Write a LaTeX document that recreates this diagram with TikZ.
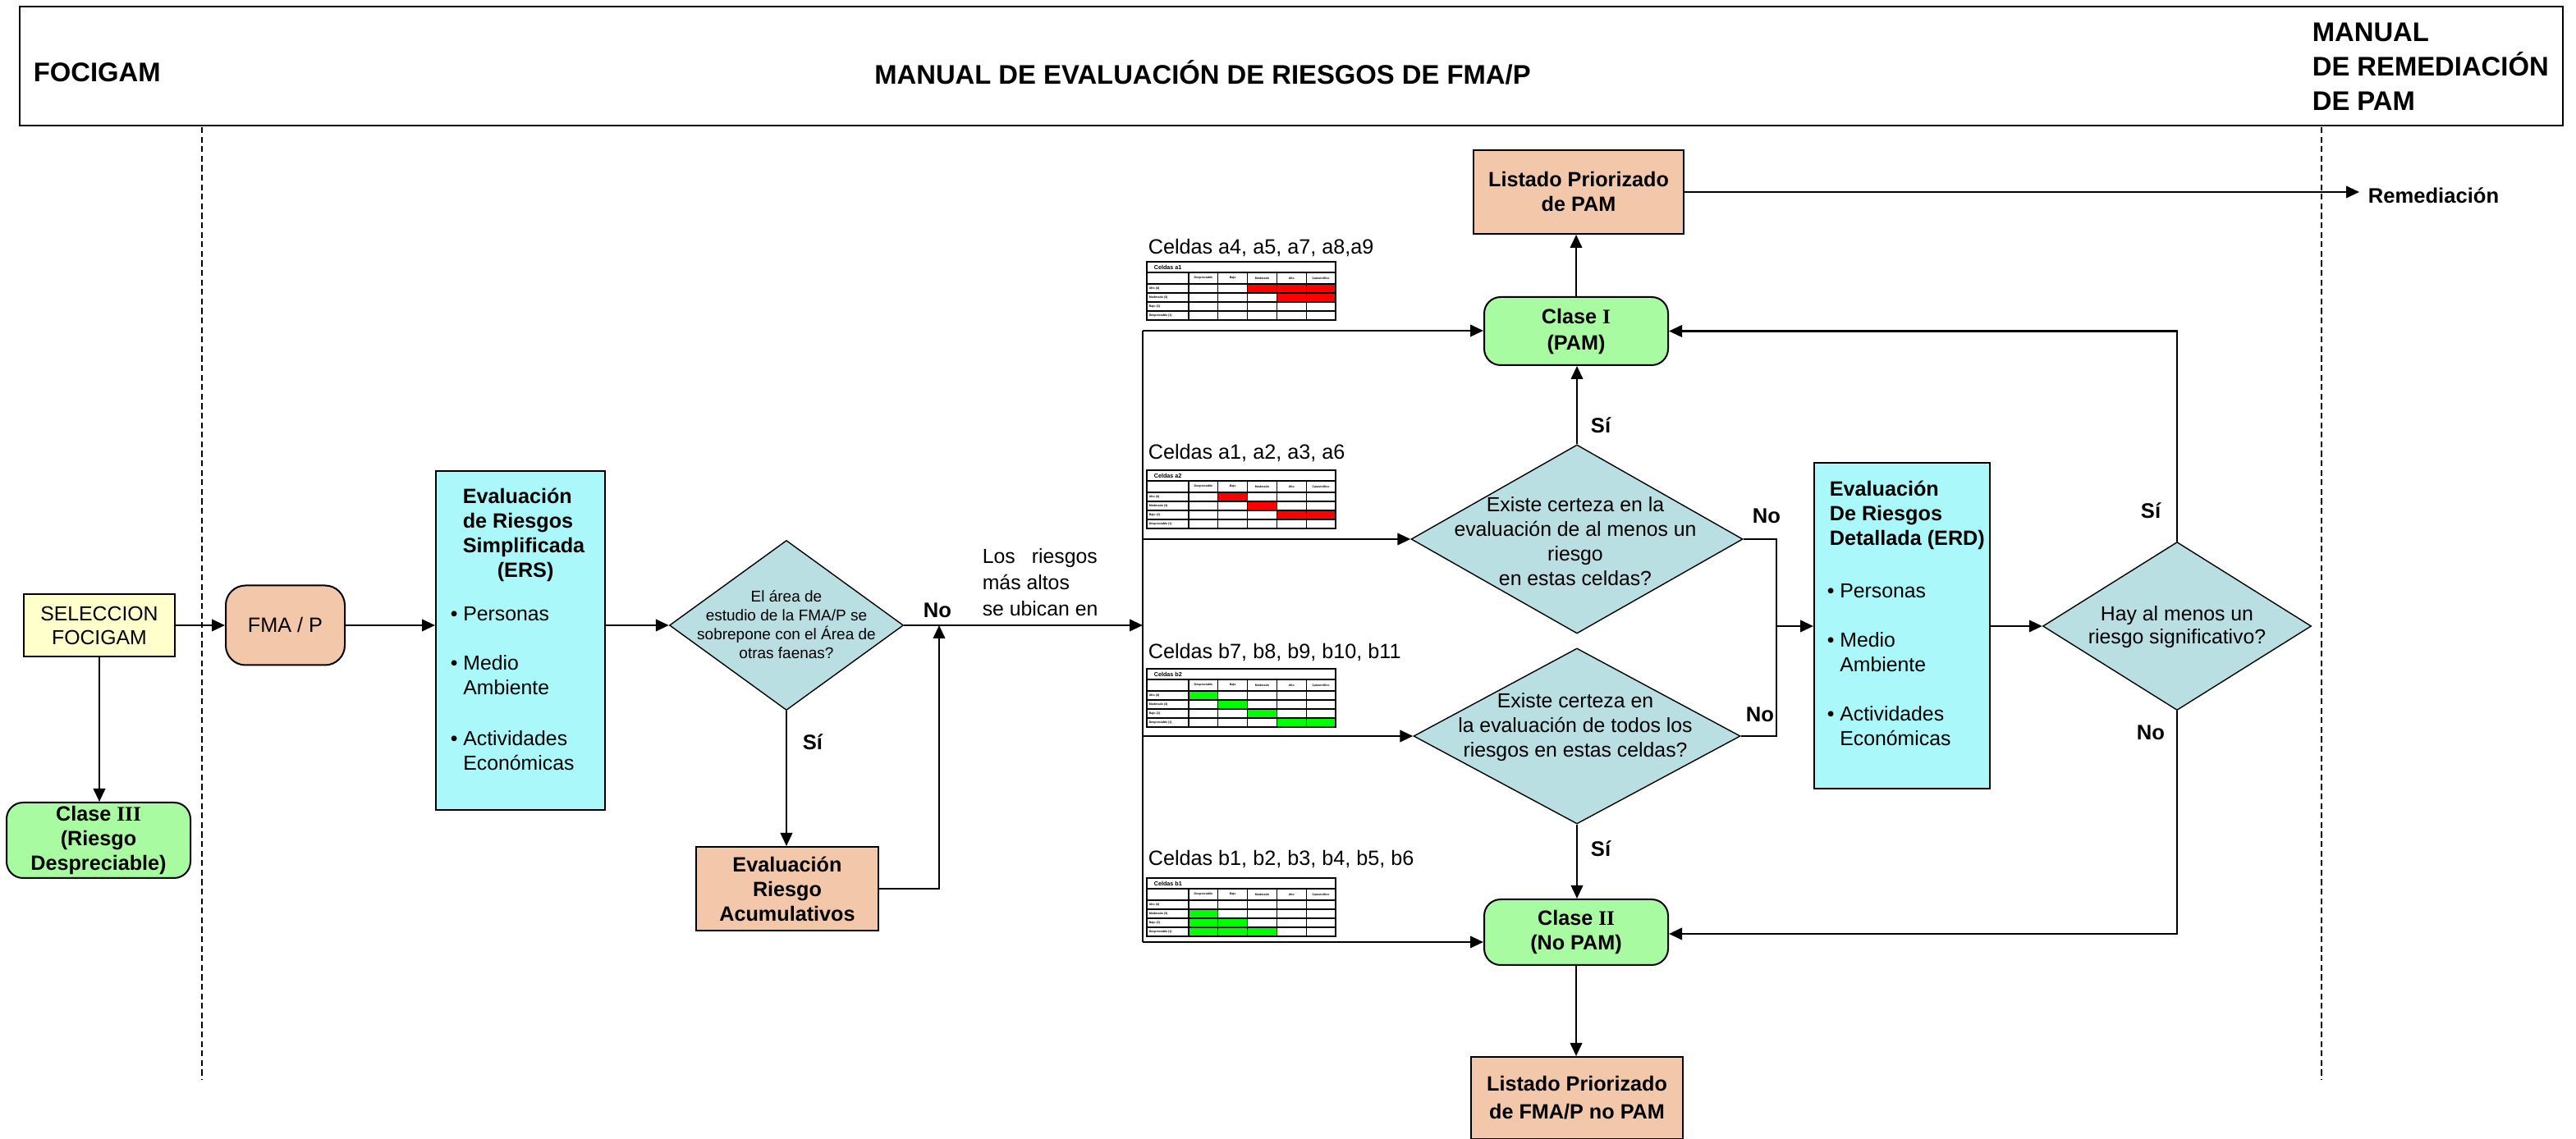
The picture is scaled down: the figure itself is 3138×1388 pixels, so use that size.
\documentclass[tikz,border=0pt]{standalone}
\usepackage{fontspec}
\setmainfont{Liberation Sans}
\newfontfamily\rmnum{Liberation Serif}
\usetikzlibrary{arrows.meta,shapes.geometric,calc}
\definecolor{selyel}{HTML}{FFFFCC}
\definecolor{peach}{HTML}{F3C7AA}
\definecolor{clgreen}{HTML}{A8FBA0}
\definecolor{evcyan}{HTML}{AAF8FA}
\definecolor{dia}{HTML}{B9DFE3}
\definecolor{cellred}{HTML}{FF0000}
\definecolor{cellgreen}{HTML}{00FF00}
\newcommand\risktable[4]{%
 \begin{scope}[shift={(#1,#2)}]
  \fill[white] (0,0) rectangle (230,71);
  \foreach \ri/\ci/\cc in {#4}{\fill[\cc] ({51+35.8*(\ci-1)},{27+11*(\ri-1)}) rectangle ++(35.8,11);}
  \foreach \yy in {13,27,38,49,60}{\draw[line width=0.3pt] (0,\yy) -- (230,\yy);}
  \foreach \xx in {51,86.8,122.6,158.4,194.2}{\draw[line width=0.3pt] (\xx,13) -- (\xx,71);}
  \draw[line width=0.7pt] (0,0) rectangle (230,71);
  \node[anchor=west,inner sep=0pt,font=\fontsize{1.8}{2}\selectfont\bfseries] at (8,6.5) {#3};
  \foreach \hh [count=\k] in {Despreciable,Bajo,Moderado,Alto,Catastrófico}
   {\node[inner sep=0pt,align=center,font=\fontsize{0.9}{1.1}\selectfont\bfseries] at ({51+35.8*(\k-0.5)},20) {\hh};}
  \foreach \rr [count=\k] in {Alto (4),Moderado (3),Bajo (2),Despreciable (1)}
   {\node[anchor=west,inner sep=0pt,font=\fontsize{0.9}{1.1}\selectfont\bfseries] at (2,{27+11*(\k-0.5)}) {\rr};}
 \end{scope}}
\begin{document}
\begin{tikzpicture}[x=0.25pt,y=-0.25pt,
  box/.style={draw,line width=0.5pt,inner sep=0pt,align=center},
  rbox/.style={box,rounded corners=5pt},
  dec/.style={diamond,draw,fill=dia,line width=0.35pt,inner sep=0pt},
  conn/.style={line width=0.65pt,-{Triangle[length=4pt,width=3.6pt]}},
  plain/.style={line width=0.65pt},
  lbl/.style={font=\fontsize{6.4}{7.5}\selectfont\bfseries,inner sep=0pt},
  txt/.style={font=\fontsize{6.2}{7.5}\selectfont,inner sep=0pt},
  btxt/.style={font=\fontsize{6.3}{7.5}\selectfont\bfseries,inner sep=0pt},
  hdrtxt/.style={font=\fontsize{8.2}{10.5}\selectfont\bfseries,inner sep=0pt},
  swim/.style={line width=0.45pt,dash pattern=on 1.8pt off 1.1pt}]
\useasboundingbox (0,0) rectangle (3138,1388);
% header
\node[draw,line width=0.6pt,minimum width=774.5pt,minimum height=36.25pt,inner sep=0pt] (hdr) at (1573,80.5) {};
\node[hdrtxt,anchor=west] (h1) at (40,88) {FOCIGAM};
\node[hdrtxt] (h2) at (1465,88) {MANUAL DE EVALUACIÓN DE RIESGOS DE FMA/P};
\node[hdrtxt,anchor=west,align=left] (h3) at (2816,81) {MANUAL\\DE REMEDIACIÓN\\DE PAM};
% swimlane separators
\draw[swim] (246,155) -- (246,1316);
\draw[swim] (2828,155) -- (2828,1316);
% left part
\node[box,fill=selyel,minimum width=46pt,minimum height=19pt,font=\fontsize{6.2}{7.25}\selectfont] (sel) at (121,762) {SELECCION\\FOCIGAM};
\node[rbox,rounded corners=6pt,fill=peach,minimum width=36.25pt,minimum height=24.25pt,font=\fontsize{6.3}{7.5}\selectfont] (fma) at (347.5,762) {FMA / P};
\node[rbox,fill=clgreen,minimum width=56pt,minimum height=23pt,font=\fontsize{6.3}{7.5}\selectfont\bfseries] (c3) at (120,1024) {Clase {\rmnum III}\\(Riesgo\\Despreciable)};
\node[box,fill=evcyan,minimum width=51.5pt,minimum height=103.25pt] (ers) at (634,780.5) {};
\node[btxt,anchor=west,align=left] (ersh) at (563,652) {Evaluación\\de Riesgos\\Simplificada\\\hspace*{10.5pt}(ERS)};
\node[txt,anchor=west,align=left] (ers1) at (548,748) {\textbullet\ Personas};
\node[txt,anchor=west,align=left] (ers2) at (548,823) {\textbullet\ Medio\\\phantom{\textbullet\ }Ambiente};
\node[txt,anchor=west,align=left] (ers3) at (548,915) {\textbullet\ Actividades\\\phantom{\textbullet\ }Económicas};
\node[dec,minimum width=71.25pt,minimum height=51.75pt] (d1) at (958,762) {};
\node[font=\fontsize{4.75}{5.75}\selectfont,align=center,inner sep=0pt] (d1t) at (958,761) {El área de\\estudio de la FMA/P se\\sobrepone con el Área de\\otras faenas?};
\node[box,fill=peach,minimum width=55.5pt,minimum height=25.5pt,font=\fontsize{6.3}{7.5}\selectfont\bfseries] (acu) at (959,1083) {Evaluación\\Riesgo\\Acumulativos};
\node[anchor=west,align=left,inner sep=0pt,font=\fontsize{6.2}{8}\selectfont] (los) at (1196,710) {\makebox[35pt][s]{Los riesgos}\\más altos\\se ubican en};
% bus
\coordinate (busT) at (1392,403);
\coordinate (busM) at (1392,762);
\coordinate (bus2) at (1392,657);
\coordinate (bus3) at (1392,897);
\coordinate (busB) at (1392,1148);
\coordinate (acuj) at (1144,762);
% tables
\node[txt,anchor=west,font=\fontsize{6.3}{7.5}\selectfont] (ta1) at (1398,302) {Celdas a4, a5, a7, a8,a9};
\risktable{1397}{319}{Celdas a1}{1/3/cellred,1/4/cellred,1/5/cellred,2/4/cellred,2/5/cellred}
\node[txt,anchor=west,font=\fontsize{6.3}{7.5}\selectfont] (ta2) at (1398,552) {Celdas a1, a2, a3, a6};
\risktable{1397}{573}{Celdas a2}{1/2/cellred,2/3/cellred,3/4/cellred,3/5/cellred}
\node[txt,anchor=west,font=\fontsize{6.3}{7.5}\selectfont] (tb2) at (1398,795) {Celdas b7, b8, b9, b10, b11};
\risktable{1397}{815}{Celdas b2}{1/1/cellgreen,2/2/cellgreen,3/3/cellgreen,4/4/cellgreen,4/5/cellgreen}
\node[txt,anchor=west,font=\fontsize{6.3}{7.5}\selectfont] (tb1) at (1398,1047) {Celdas b1, b2, b3, b4, b5, b6};
\risktable{1397}{1070}{Celdas b1}{2/1/cellgreen,3/1/cellgreen,3/2/cellgreen,4/1/cellgreen,4/2/cellgreen,4/3/cellgreen}
% central column
\node[box,fill=peach,minimum width=64pt,minimum height=25.5pt,font=\fontsize{6.3}{7.5}\selectfont\bfseries] (lp) at (1923,234) {Listado Priorizado\\de PAM};
\node[rbox,fill=clgreen,minimum width=56pt,minimum height=20.75pt,font=\fontsize{6.3}{8}\selectfont\bfseries] (c1) at (1920,403.5) {Clase {\rmnum I}\\(PAM)};
\node[dec,minimum width=101pt,minimum height=57.5pt] (d2) at (1921,657) {};
\node[txt,align=center] (d2t) at (1919,660) {Existe certeza en la\\evaluación de al menos un\\riesgo\\en estas celdas?};
\node[dec,minimum width=99.5pt,minimum height=53.5pt] (d3) at (1921,897) {};
\node[txt,align=center] (d3t) at (1919,886) {Existe certeza en\\la evaluación de todos los\\riesgos en estas celdas?};
\node[rbox,fill=clgreen,minimum width=56pt,minimum height=20pt,font=\fontsize{6.3}{7.5}\selectfont\bfseries] (c2) at (1920,1136) {Clase {\rmnum II}\\(No PAM)};
\node[box,fill=peach,minimum width=64.5pt,minimum height=25pt,font=\fontsize{6.3}{8.5}\selectfont\bfseries] (lnp) at (1921,1338) {Listado Priorizado\\de FMA/P no PAM};
% right part
\node[box,fill=evcyan,minimum width=53.5pt,minimum height=99.25pt] (erd) at (2317,763) {};
\node[btxt,anchor=west,align=left] (erdh) at (2228,628) {Evaluación\\De Riesgos\\Detallada (ERD)};
\node[txt,anchor=west,align=left] (erd1) at (2225,720) {\textbullet\ Personas};
\node[txt,anchor=west,align=left] (erd2) at (2225,795) {\textbullet\ Medio\\\phantom{\textbullet\ }Ambiente};
\node[txt,anchor=west,align=left] (erd3) at (2225,885) {\textbullet\ Actividades\\\phantom{\textbullet\ }Económicas};
\node[dec,minimum width=81.75pt,minimum height=51.25pt] (hay) at (2652,763) {};
\node[txt,align=center,font=\fontsize{6.2}{7}\selectfont] (hayt) at (2652,764) {Hay al menos un\\riesgo significativo?};
\coordinate (erdj) at (2164,763);
\coordinate (hayb) at (2652,1138);
\coordinate (remtip) at (2874,234);
\node[lbl,anchor=west] (rem) at (2884,238) {Remediación};
% connectors
\draw[conn] (sel.east) -- (fma.west);
\draw[conn] (sel.south) -- (sel.south |- c3.north);
\draw[conn] (fma.east) -- (fma.east -| ers.west);
\draw[conn] (ers.east |- d1.west) -- (d1.west);
\draw[conn] (d1.south) -- (d1.south |- acu.north);
\draw[conn] (d1.east) -- (busM);
\draw[conn] (acu.east) -| (acuj);
\draw[plain] (busT) -- (busB);
\draw[conn] (busT) -- (busT -| c1.west);
\draw[conn] (bus2) -- (d2.west);
\draw[conn] (bus3) -- (d3.west);
\draw[conn] (busB) -- (busB -| c2.west);
\draw[conn] (c1.north) -- (c1.north |- lp.south);
\draw[conn] (lp.east) -- (remtip);
\draw[conn] (d2.north) -- (d2.north |- c1.south);
\draw[conn] (d3.south) -- (d3.south |- c2.north);
\draw[conn] (c2.south) -- (c2.south |- lnp.north);
\draw[plain] (d2.east) -| (erdj) |- (d3.east);
\draw[conn] (erdj) -- (erdj -| erd.west);
\draw[conn] (erd.east |- hay.west) -- (hay.west);
\draw[conn] (hay.north) |- (c1.east);
\draw[conn] (hay.south) -- (hayb) -- (hayb -| c2.east);
% labels
\node[lbl] (si1) at (990,904) {Sí};
\node[lbl] (no1) at (1142,744) {No};
\node[lbl] (si2) at (1950,518) {Sí};
\node[lbl] (si3) at (1950,1034) {Sí};
\node[lbl] (no2) at (2152,629) {No};
\node[lbl] (no3) at (2144,871) {No};
\node[lbl] (si4) at (2620,622) {Sí};
\node[lbl] (no4) at (2620,893) {No};
\end{tikzpicture}
\end{document}
